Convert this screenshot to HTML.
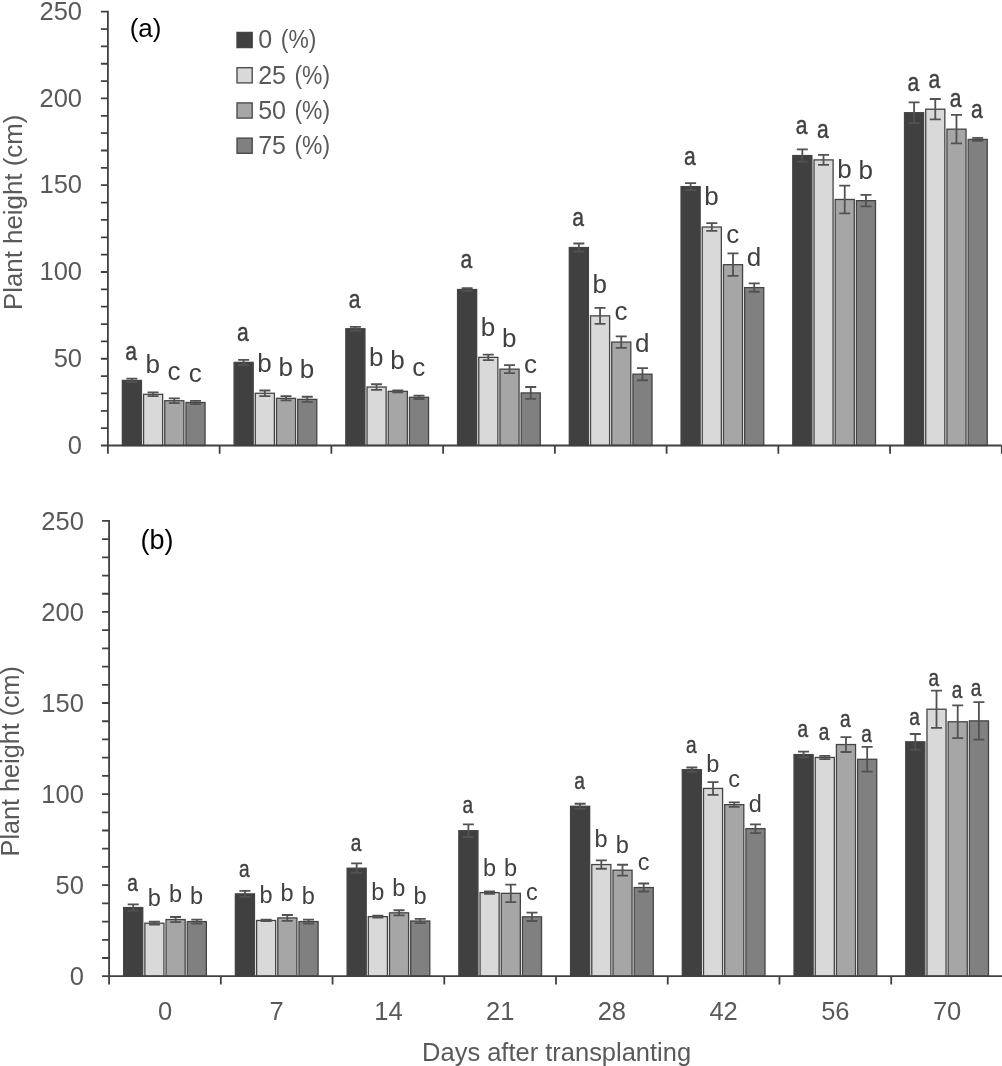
<!DOCTYPE html>
<html><head><meta charset="utf-8"><title>Plant height</title>
<style>
html,body{margin:0;padding:0;background:#fff;}
body{width:1002px;height:1066px;overflow:hidden;}
svg{display:block;font-family:"Liberation Sans", sans-serif;will-change:transform;}
</style></head>
<body>
<svg width="1002" height="1066" viewBox="0 0 1002 1066">
<rect width="1002" height="1066" fill="#fff"/>
<rect x="122.35" y="380.43" width="19.1" height="65.07" fill="#404040" stroke="#444444" stroke-width="1.3"/>
<rect x="143.55" y="394.31" width="19.1" height="51.19" fill="#d9d9d9" stroke="#444444" stroke-width="1.3"/>
<rect x="164.75" y="400.73" width="19.1" height="44.77" fill="#a6a6a6" stroke="#444444" stroke-width="1.3"/>
<rect x="185.95" y="402.47" width="19.1" height="43.03" fill="#808080" stroke="#444444" stroke-width="1.3"/>
<rect x="234.09" y="362.38" width="19.1" height="83.12" fill="#404040" stroke="#444444" stroke-width="1.3"/>
<rect x="255.29" y="393.27" width="19.1" height="52.23" fill="#d9d9d9" stroke="#444444" stroke-width="1.3"/>
<rect x="276.49" y="398.3" width="19.1" height="47.2" fill="#a6a6a6" stroke="#444444" stroke-width="1.3"/>
<rect x="297.69" y="399.34" width="19.1" height="46.16" fill="#808080" stroke="#444444" stroke-width="1.3"/>
<rect x="345.83" y="328.72" width="19.1" height="116.78" fill="#404040" stroke="#444444" stroke-width="1.3"/>
<rect x="367.03" y="387.02" width="19.1" height="58.48" fill="#d9d9d9" stroke="#444444" stroke-width="1.3"/>
<rect x="388.23" y="391.36" width="19.1" height="54.14" fill="#a6a6a6" stroke="#444444" stroke-width="1.3"/>
<rect x="409.43" y="397.26" width="19.1" height="48.24" fill="#808080" stroke="#444444" stroke-width="1.3"/>
<rect x="457.57" y="289.51" width="19.1" height="155.99" fill="#404040" stroke="#444444" stroke-width="1.3"/>
<rect x="478.77" y="357.35" width="19.1" height="88.15" fill="#d9d9d9" stroke="#444444" stroke-width="1.3"/>
<rect x="499.97" y="369.15" width="19.1" height="76.35" fill="#a6a6a6" stroke="#444444" stroke-width="1.3"/>
<rect x="521.17" y="392.92" width="19.1" height="52.58" fill="#808080" stroke="#444444" stroke-width="1.3"/>
<rect x="569.31" y="247.51" width="19.1" height="197.99" fill="#404040" stroke="#444444" stroke-width="1.3"/>
<rect x="590.51" y="315.88" width="19.1" height="129.62" fill="#d9d9d9" stroke="#444444" stroke-width="1.3"/>
<rect x="611.71" y="342.08" width="19.1" height="103.42" fill="#a6a6a6" stroke="#444444" stroke-width="1.3"/>
<rect x="632.91" y="374.18" width="19.1" height="71.32" fill="#808080" stroke="#444444" stroke-width="1.3"/>
<rect x="681.05" y="186.61" width="19.1" height="258.89" fill="#404040" stroke="#444444" stroke-width="1.3"/>
<rect x="702.25" y="227.04" width="19.1" height="218.46" fill="#d9d9d9" stroke="#444444" stroke-width="1.3"/>
<rect x="723.45" y="264.69" width="19.1" height="180.81" fill="#a6a6a6" stroke="#444444" stroke-width="1.3"/>
<rect x="744.65" y="287.6" width="19.1" height="157.9" fill="#808080" stroke="#444444" stroke-width="1.3"/>
<rect x="792.79" y="155.55" width="19.1" height="289.95" fill="#404040" stroke="#444444" stroke-width="1.3"/>
<rect x="813.99" y="159.89" width="19.1" height="285.61" fill="#d9d9d9" stroke="#444444" stroke-width="1.3"/>
<rect x="835.19" y="199.45" width="19.1" height="246.05" fill="#a6a6a6" stroke="#444444" stroke-width="1.3"/>
<rect x="856.39" y="200.66" width="19.1" height="244.84" fill="#808080" stroke="#444444" stroke-width="1.3"/>
<rect x="904.53" y="112.69" width="19.1" height="332.81" fill="#404040" stroke="#444444" stroke-width="1.3"/>
<rect x="925.73" y="109.22" width="19.1" height="336.28" fill="#d9d9d9" stroke="#444444" stroke-width="1.3"/>
<rect x="946.93" y="129.17" width="19.1" height="316.33" fill="#a6a6a6" stroke="#444444" stroke-width="1.3"/>
<rect x="968.13" y="139.41" width="19.1" height="306.09" fill="#808080" stroke="#444444" stroke-width="1.3"/>
<path d="M131.9 378.69V382.17M126.4 378.69H137.4M126.4 382.17H137.4" stroke="#525252" stroke-width="1.8" fill="none"/>
<path d="M153.1 392.4V396.22M147.6 392.4H158.6M147.6 396.22H158.6" stroke="#525252" stroke-width="1.8" fill="none"/>
<path d="M174.3 398.39V403.07M168.8 398.39H179.8M168.8 403.07H179.8" stroke="#525252" stroke-width="1.8" fill="none"/>
<path d="M195.5 400.82V404.12M190 400.82H201M190 404.12H201" stroke="#525252" stroke-width="1.8" fill="none"/>
<path d="M243.64 359.95V364.81M238.14 359.95H249.14M238.14 364.81H249.14" stroke="#525252" stroke-width="1.8" fill="none"/>
<path d="M264.84 390.49V396.05M259.34 390.49H270.34M259.34 396.05H270.34" stroke="#525252" stroke-width="1.8" fill="none"/>
<path d="M286.04 396.22V400.38M280.54 396.22H291.54M280.54 400.38H291.54" stroke="#525252" stroke-width="1.8" fill="none"/>
<path d="M307.24 396.74V401.95M301.74 396.74H312.74M301.74 401.95H312.74" stroke="#525252" stroke-width="1.8" fill="none"/>
<path d="M355.38 326.81V330.63M349.88 326.81H360.88M349.88 330.63H360.88" stroke="#525252" stroke-width="1.8" fill="none"/>
<path d="M376.58 384.25V389.8M371.08 384.25H382.08M371.08 389.8H382.08" stroke="#525252" stroke-width="1.8" fill="none"/>
<path d="M397.78 390.49V392.23M392.28 390.49H403.28M392.28 392.23H403.28" stroke="#525252" stroke-width="1.8" fill="none"/>
<path d="M418.98 395.53V399M413.48 395.53H424.48M413.48 399H424.48" stroke="#525252" stroke-width="1.8" fill="none"/>
<path d="M467.12 288.12V290.89M461.62 288.12H472.62M461.62 290.89H472.62" stroke="#525252" stroke-width="1.8" fill="none"/>
<path d="M488.32 354.66V360.04M482.82 354.66H493.82M482.82 360.04H493.82" stroke="#525252" stroke-width="1.8" fill="none"/>
<path d="M509.52 365.16V373.14M504.02 365.16H515.02M504.02 373.14H515.02" stroke="#525252" stroke-width="1.8" fill="none"/>
<path d="M530.72 387.02V398.82M525.22 387.02H536.22M525.22 398.82H536.22" stroke="#525252" stroke-width="1.8" fill="none"/>
<path d="M578.86 243.52V251.5M573.36 243.52H584.36M573.36 251.5H584.36" stroke="#525252" stroke-width="1.8" fill="none"/>
<path d="M600.06 307.9V323.86M594.56 307.9H605.56M594.56 323.86H605.56" stroke="#525252" stroke-width="1.8" fill="none"/>
<path d="M621.26 336.36V347.81M615.76 336.36H626.76M615.76 347.81H626.76" stroke="#525252" stroke-width="1.8" fill="none"/>
<path d="M642.46 368.11V380.26M636.96 368.11H647.96M636.96 380.26H647.96" stroke="#525252" stroke-width="1.8" fill="none"/>
<path d="M690.6 183.14V190.08M685.1 183.14H696.1M685.1 190.08H696.1" stroke="#525252" stroke-width="1.8" fill="none"/>
<path d="M711.8 223.22V230.86M706.3 223.22H717.3M706.3 230.86H717.3" stroke="#525252" stroke-width="1.8" fill="none"/>
<path d="M733 253.41V275.97M727.5 253.41H738.5M727.5 275.97H738.5" stroke="#525252" stroke-width="1.8" fill="none"/>
<path d="M754.2 283.43V291.76M748.7 283.43H759.7M748.7 291.76H759.7" stroke="#525252" stroke-width="1.8" fill="none"/>
<path d="M802.34 149.47V161.62M796.84 149.47H807.84M796.84 161.62H807.84" stroke="#525252" stroke-width="1.8" fill="none"/>
<path d="M823.54 154.85V164.92M818.04 154.85H829.04M818.04 164.92H829.04" stroke="#525252" stroke-width="1.8" fill="none"/>
<path d="M844.74 185.57V213.33M839.24 185.57H850.24M839.24 213.33H850.24" stroke="#525252" stroke-width="1.8" fill="none"/>
<path d="M865.94 194.94V206.39M860.44 194.94H871.44M860.44 206.39H871.44" stroke="#525252" stroke-width="1.8" fill="none"/>
<path d="M914.08 102.28V123.1M908.58 102.28H919.58M908.58 123.1H919.58" stroke="#525252" stroke-width="1.8" fill="none"/>
<path d="M935.28 98.98V119.46M929.78 98.98H940.78M929.78 119.46H940.78" stroke="#525252" stroke-width="1.8" fill="none"/>
<path d="M956.48 114.94V143.4M950.98 114.94H961.98M950.98 143.4H961.98" stroke="#525252" stroke-width="1.8" fill="none"/>
<path d="M977.68 137.85V140.97M972.18 137.85H983.18M972.18 140.97H983.18" stroke="#525252" stroke-width="1.8" fill="none"/>
<path d="M107.9 10.8V453.8M107.9 445.5H1001.6M100.9 445.5H107.9M100.9 428.15H107.9M100.9 410.8H107.9M100.9 393.44H107.9M100.9 376.09H107.9M100.9 358.74H107.9M100.9 341.39H107.9M100.9 324.04H107.9M100.9 306.68H107.9M100.9 289.33H107.9M100.9 271.98H107.9M100.9 254.63H107.9M100.9 237.28H107.9M100.9 219.92H107.9M100.9 202.57H107.9M100.9 185.22H107.9M100.9 167.87H107.9M100.9 150.52H107.9M100.9 133.16H107.9M100.9 115.81H107.9M100.9 98.46H107.9M100.9 81.11H107.9M100.9 63.76H107.9M100.9 46.4H107.9M100.9 29.05H107.9M100.9 11.7H107.9M219.64 445.5V453.8M331.38 445.5V453.8M443.12 445.5V453.8M554.86 445.5V453.8M666.6 445.5V453.8M778.34 445.5V453.8M890.08 445.5V453.8M1001.82 445.5V453.8" stroke="#404040" stroke-width="1.8" fill="none" stroke-linecap="butt"/>
<text x="82" y="453.7" text-anchor="end" font-size="25.5" fill="#595959">0</text>
<text x="82" y="366.94" text-anchor="end" font-size="25.5" fill="#595959">50</text>
<text x="82" y="280.18" text-anchor="end" font-size="25.5" fill="#595959">100</text>
<text x="82" y="193.42" text-anchor="end" font-size="25.5" fill="#595959">150</text>
<text x="82" y="106.66" text-anchor="end" font-size="25.5" fill="#595959">200</text>
<text x="82" y="19.9" text-anchor="end" font-size="25.5" fill="#595959">250</text>
<text transform="translate(131.1 360) scale(0.81 1)" text-anchor="middle" font-size="26" fill="#404040" stroke="#404040" stroke-width="0.45">a</text>
<text x="152.85" y="373.4" text-anchor="middle" font-size="26" fill="#404040">b</text>
<text x="174.05" y="379.6" text-anchor="middle" font-size="26" fill="#404040">c</text>
<text x="195.25" y="381.9" text-anchor="middle" font-size="26" fill="#404040">c</text>
<text transform="translate(242.84 341.3) scale(0.81 1)" text-anchor="middle" font-size="26" fill="#404040" stroke="#404040" stroke-width="0.45">a</text>
<text x="264.59" y="371.8" text-anchor="middle" font-size="26" fill="#404040">b</text>
<text x="285.79" y="376.3" text-anchor="middle" font-size="26" fill="#404040">b</text>
<text x="306.99" y="378.2" text-anchor="middle" font-size="26" fill="#404040">b</text>
<text transform="translate(354.58 307.8) scale(0.81 1)" text-anchor="middle" font-size="26" fill="#404040" stroke="#404040" stroke-width="0.45">a</text>
<text x="376.33" y="365.5" text-anchor="middle" font-size="26" fill="#404040">b</text>
<text x="397.53" y="369.4" text-anchor="middle" font-size="26" fill="#404040">b</text>
<text x="418.73" y="375.7" text-anchor="middle" font-size="26" fill="#404040">c</text>
<text transform="translate(466.32 268.3) scale(0.81 1)" text-anchor="middle" font-size="26" fill="#404040" stroke="#404040" stroke-width="0.45">a</text>
<text x="488.07" y="335.8" text-anchor="middle" font-size="26" fill="#404040">b</text>
<text x="509.27" y="347.3" text-anchor="middle" font-size="26" fill="#404040">b</text>
<text x="530.47" y="372.7" text-anchor="middle" font-size="26" fill="#404040">c</text>
<text transform="translate(578.06 225.7) scale(0.81 1)" text-anchor="middle" font-size="26" fill="#404040" stroke="#404040" stroke-width="0.45">a</text>
<text x="599.81" y="293.2" text-anchor="middle" font-size="26" fill="#404040">b</text>
<text x="621.01" y="320" text-anchor="middle" font-size="26" fill="#404040">c</text>
<text x="642.21" y="351.9" text-anchor="middle" font-size="26" fill="#404040">d</text>
<text transform="translate(689.8 165) scale(0.81 1)" text-anchor="middle" font-size="26" fill="#404040" stroke="#404040" stroke-width="0.45">a</text>
<text x="711.55" y="205" text-anchor="middle" font-size="26" fill="#404040">b</text>
<text x="732.75" y="242.9" text-anchor="middle" font-size="26" fill="#404040">c</text>
<text x="753.95" y="266" text-anchor="middle" font-size="26" fill="#404040">d</text>
<text transform="translate(801.54 133.8) scale(0.81 1)" text-anchor="middle" font-size="26" fill="#404040" stroke="#404040" stroke-width="0.45">a</text>
<text transform="translate(822.74 137.7) scale(0.81 1)" text-anchor="middle" font-size="26" fill="#404040" stroke="#404040" stroke-width="0.45">a</text>
<text x="844.49" y="177.8" text-anchor="middle" font-size="26" fill="#404040">b</text>
<text x="865.69" y="178.7" text-anchor="middle" font-size="26" fill="#404040">b</text>
<text transform="translate(913.28 91.3) scale(0.81 1)" text-anchor="middle" font-size="26" fill="#404040" stroke="#404040" stroke-width="0.45">a</text>
<text transform="translate(934.48 87.9) scale(0.81 1)" text-anchor="middle" font-size="26" fill="#404040" stroke="#404040" stroke-width="0.45">a</text>
<text transform="translate(955.68 107.1) scale(0.81 1)" text-anchor="middle" font-size="26" fill="#404040" stroke="#404040" stroke-width="0.45">a</text>
<text transform="translate(976.88 117.7) scale(0.81 1)" text-anchor="middle" font-size="26" fill="#404040" stroke="#404040" stroke-width="0.45">a</text>
<text x="129.7" y="37" font-size="26" fill="#000">(a)</text>
<text transform="translate(21.6 310) rotate(-90)" font-size="25.5" fill="#595959" textLength="195.4" lengthAdjust="spacingAndGlyphs">Plant height (cm)</text>
<rect x="123.65" y="907.54" width="19.1" height="68.66" fill="#404040" stroke="#444444" stroke-width="1.3"/>
<rect x="144.85" y="923.2" width="19.1" height="53" fill="#d9d9d9" stroke="#444444" stroke-width="1.3"/>
<rect x="166.05" y="919.56" width="19.1" height="56.64" fill="#a6a6a6" stroke="#444444" stroke-width="1.3"/>
<rect x="187.25" y="921.56" width="19.1" height="54.64" fill="#808080" stroke="#444444" stroke-width="1.3"/>
<rect x="235.38" y="893.88" width="19.1" height="82.32" fill="#404040" stroke="#444444" stroke-width="1.3"/>
<rect x="256.58" y="920.47" width="19.1" height="55.73" fill="#d9d9d9" stroke="#444444" stroke-width="1.3"/>
<rect x="277.78" y="917.92" width="19.1" height="58.28" fill="#a6a6a6" stroke="#444444" stroke-width="1.3"/>
<rect x="298.98" y="921.56" width="19.1" height="54.64" fill="#808080" stroke="#444444" stroke-width="1.3"/>
<rect x="347.11" y="868.2" width="19.1" height="108" fill="#404040" stroke="#444444" stroke-width="1.3"/>
<rect x="368.31" y="916.65" width="19.1" height="59.55" fill="#d9d9d9" stroke="#444444" stroke-width="1.3"/>
<rect x="389.51" y="912.82" width="19.1" height="63.38" fill="#a6a6a6" stroke="#444444" stroke-width="1.3"/>
<rect x="410.71" y="921.02" width="19.1" height="55.18" fill="#808080" stroke="#444444" stroke-width="1.3"/>
<rect x="458.84" y="830.69" width="19.1" height="145.51" fill="#404040" stroke="#444444" stroke-width="1.3"/>
<rect x="480.04" y="892.61" width="19.1" height="83.59" fill="#d9d9d9" stroke="#444444" stroke-width="1.3"/>
<rect x="501.24" y="893.34" width="19.1" height="82.86" fill="#a6a6a6" stroke="#444444" stroke-width="1.3"/>
<rect x="522.44" y="916.83" width="19.1" height="59.37" fill="#808080" stroke="#444444" stroke-width="1.3"/>
<rect x="570.57" y="806.28" width="19.1" height="169.92" fill="#404040" stroke="#444444" stroke-width="1.3"/>
<rect x="591.77" y="864.56" width="19.1" height="111.64" fill="#d9d9d9" stroke="#444444" stroke-width="1.3"/>
<rect x="612.97" y="870.21" width="19.1" height="105.99" fill="#a6a6a6" stroke="#444444" stroke-width="1.3"/>
<rect x="634.17" y="887.51" width="19.1" height="88.69" fill="#808080" stroke="#444444" stroke-width="1.3"/>
<rect x="682.3" y="769.68" width="19.1" height="206.52" fill="#404040" stroke="#444444" stroke-width="1.3"/>
<rect x="703.5" y="788.43" width="19.1" height="187.77" fill="#d9d9d9" stroke="#444444" stroke-width="1.3"/>
<rect x="724.7" y="804.64" width="19.1" height="171.56" fill="#a6a6a6" stroke="#444444" stroke-width="1.3"/>
<rect x="745.9" y="828.68" width="19.1" height="147.52" fill="#808080" stroke="#444444" stroke-width="1.3"/>
<rect x="794.03" y="754.56" width="19.1" height="221.64" fill="#404040" stroke="#444444" stroke-width="1.3"/>
<rect x="815.23" y="757.47" width="19.1" height="218.73" fill="#d9d9d9" stroke="#444444" stroke-width="1.3"/>
<rect x="836.43" y="744.54" width="19.1" height="231.66" fill="#a6a6a6" stroke="#444444" stroke-width="1.3"/>
<rect x="857.63" y="759.3" width="19.1" height="216.9" fill="#808080" stroke="#444444" stroke-width="1.3"/>
<rect x="905.76" y="741.81" width="19.1" height="234.39" fill="#404040" stroke="#444444" stroke-width="1.3"/>
<rect x="926.96" y="709.21" width="19.1" height="266.99" fill="#d9d9d9" stroke="#444444" stroke-width="1.3"/>
<rect x="948.16" y="721.78" width="19.1" height="254.42" fill="#a6a6a6" stroke="#444444" stroke-width="1.3"/>
<rect x="969.36" y="720.87" width="19.1" height="255.33" fill="#808080" stroke="#444444" stroke-width="1.3"/>
<path d="M133.2 904.44V910.64M127.7 904.44H138.7M127.7 910.64H138.7" stroke="#525252" stroke-width="1.8" fill="none"/>
<path d="M154.4 921.75V924.66M148.9 921.75H159.9M148.9 924.66H159.9" stroke="#525252" stroke-width="1.8" fill="none"/>
<path d="M175.6 917.01V922.11M170.1 917.01H181.1M170.1 922.11H181.1" stroke="#525252" stroke-width="1.8" fill="none"/>
<path d="M196.8 919.56V923.57M191.3 919.56H202.3M191.3 923.57H202.3" stroke="#525252" stroke-width="1.8" fill="none"/>
<path d="M244.93 890.97V896.8M239.43 890.97H250.43M239.43 896.8H250.43" stroke="#525252" stroke-width="1.8" fill="none"/>
<path d="M266.13 919.74V921.2M260.63 919.74H271.63M260.63 921.2H271.63" stroke="#525252" stroke-width="1.8" fill="none"/>
<path d="M287.33 915.01V920.84M281.83 915.01H292.83M281.83 920.84H292.83" stroke="#525252" stroke-width="1.8" fill="none"/>
<path d="M308.53 919.56V923.57M303.03 919.56H314.03M303.03 923.57H314.03" stroke="#525252" stroke-width="1.8" fill="none"/>
<path d="M356.66 863.47V872.94M351.16 863.47H362.16M351.16 872.94H362.16" stroke="#525252" stroke-width="1.8" fill="none"/>
<path d="M377.86 915.74V917.56M372.36 915.74H383.36M372.36 917.56H383.36" stroke="#525252" stroke-width="1.8" fill="none"/>
<path d="M399.06 910.27V915.37M393.56 910.27H404.56M393.56 915.37H404.56" stroke="#525252" stroke-width="1.8" fill="none"/>
<path d="M420.26 918.83V923.2M414.76 918.83H425.76M414.76 923.2H425.76" stroke="#525252" stroke-width="1.8" fill="none"/>
<path d="M468.39 824.31V837.06M462.89 824.31H473.89M462.89 837.06H473.89" stroke="#525252" stroke-width="1.8" fill="none"/>
<path d="M489.59 891.33V893.88M484.09 891.33H495.09M484.09 893.88H495.09" stroke="#525252" stroke-width="1.8" fill="none"/>
<path d="M510.79 884.59V902.08M505.29 884.59H516.29M505.29 902.08H516.29" stroke="#525252" stroke-width="1.8" fill="none"/>
<path d="M531.99 912.64V921.02M526.49 912.64H537.49M526.49 921.02H537.49" stroke="#525252" stroke-width="1.8" fill="none"/>
<path d="M580.12 803.73V808.83M574.62 803.73H585.62M574.62 808.83H585.62" stroke="#525252" stroke-width="1.8" fill="none"/>
<path d="M601.32 860.37V868.75M595.82 860.37H606.82M595.82 868.75H606.82" stroke="#525252" stroke-width="1.8" fill="none"/>
<path d="M622.52 864.74V875.67M617.02 864.74H628.02M617.02 875.67H628.02" stroke="#525252" stroke-width="1.8" fill="none"/>
<path d="M643.72 883.5V891.51M638.22 883.5H649.22M638.22 891.51H649.22" stroke="#525252" stroke-width="1.8" fill="none"/>
<path d="M691.85 767.49V771.86M686.35 767.49H697.35M686.35 771.86H697.35" stroke="#525252" stroke-width="1.8" fill="none"/>
<path d="M713.05 782.06V794.81M707.55 782.06H718.55M707.55 794.81H718.55" stroke="#525252" stroke-width="1.8" fill="none"/>
<path d="M734.25 802.46V806.83M728.75 802.46H739.75M728.75 806.83H739.75" stroke="#525252" stroke-width="1.8" fill="none"/>
<path d="M755.45 824.31V833.05M749.95 824.31H760.95M749.95 833.05H760.95" stroke="#525252" stroke-width="1.8" fill="none"/>
<path d="M803.58 751.65V757.47M798.08 751.65H809.08M798.08 757.47H809.08" stroke="#525252" stroke-width="1.8" fill="none"/>
<path d="M824.78 755.83V759.11M819.28 755.83H830.28M819.28 759.11H830.28" stroke="#525252" stroke-width="1.8" fill="none"/>
<path d="M845.98 737.08V752.01M840.48 737.08H851.48M840.48 752.01H851.48" stroke="#525252" stroke-width="1.8" fill="none"/>
<path d="M867.18 746.91V771.68M861.68 746.91H872.68M861.68 771.68H872.68" stroke="#525252" stroke-width="1.8" fill="none"/>
<path d="M915.31 733.98V749.64M909.81 733.98H920.81M909.81 749.64H920.81" stroke="#525252" stroke-width="1.8" fill="none"/>
<path d="M936.51 690.64V727.79M931.01 690.64H942.01M931.01 727.79H942.01" stroke="#525252" stroke-width="1.8" fill="none"/>
<path d="M957.71 705.39V738.17M952.21 705.39H963.21M952.21 738.17H963.21" stroke="#525252" stroke-width="1.8" fill="none"/>
<path d="M978.91 702.11V739.63M973.41 702.11H984.41M973.41 739.63H984.41" stroke="#525252" stroke-width="1.8" fill="none"/>
<path d="M109.1 520V984.5M109.1 976.2H1003.5M102.1 976.2H109.1M102.1 957.99H109.1M102.1 939.78H109.1M102.1 921.56H109.1M102.1 903.35H109.1M102.1 885.14H109.1M102.1 866.93H109.1M102.1 848.72H109.1M102.1 830.5H109.1M102.1 812.29H109.1M102.1 794.08H109.1M102.1 775.87H109.1M102.1 757.66H109.1M102.1 739.44H109.1M102.1 721.23H109.1M102.1 703.02H109.1M102.1 684.81H109.1M102.1 666.6H109.1M102.1 648.38H109.1M102.1 630.17H109.1M102.1 611.96H109.1M102.1 593.75H109.1M102.1 575.54H109.1M102.1 557.32H109.1M102.1 539.11H109.1M102.1 520.9H109.1M220.83 976.2V984.5M332.56 976.2V984.5M444.29 976.2V984.5M556.02 976.2V984.5M667.75 976.2V984.5M779.48 976.2V984.5M891.21 976.2V984.5" stroke="#404040" stroke-width="1.8" fill="none" stroke-linecap="butt"/>
<text x="83.9" y="984.9" text-anchor="end" font-size="25.5" fill="#595959">0</text>
<text x="83.9" y="893.84" text-anchor="end" font-size="25.5" fill="#595959">50</text>
<text x="83.9" y="802.78" text-anchor="end" font-size="25.5" fill="#595959">100</text>
<text x="83.9" y="711.72" text-anchor="end" font-size="25.5" fill="#595959">150</text>
<text x="83.9" y="620.66" text-anchor="end" font-size="25.5" fill="#595959">200</text>
<text x="83.9" y="529.6" text-anchor="end" font-size="25.5" fill="#595959">250</text>
<text transform="translate(132.53 890.5) scale(0.81 1)" text-anchor="middle" font-size="23.5" fill="#404040" stroke="#404040" stroke-width="0.45">a</text>
<text x="154.23" y="905.6" text-anchor="middle" font-size="23.5" fill="#404040">b</text>
<text x="175.43" y="902.3" text-anchor="middle" font-size="23.5" fill="#404040">b</text>
<text x="196.63" y="904.3" text-anchor="middle" font-size="23.5" fill="#404040">b</text>
<text transform="translate(244.26 877.2) scale(0.81 1)" text-anchor="middle" font-size="23.5" fill="#404040" stroke="#404040" stroke-width="0.45">a</text>
<text x="265.96" y="903.2" text-anchor="middle" font-size="23.5" fill="#404040">b</text>
<text x="287.16" y="900.6" text-anchor="middle" font-size="23.5" fill="#404040">b</text>
<text x="308.36" y="904.3" text-anchor="middle" font-size="23.5" fill="#404040">b</text>
<text transform="translate(355.99 851.1) scale(0.81 1)" text-anchor="middle" font-size="23.5" fill="#404040" stroke="#404040" stroke-width="0.45">a</text>
<text x="377.69" y="899.9" text-anchor="middle" font-size="23.5" fill="#404040">b</text>
<text x="398.89" y="895.8" text-anchor="middle" font-size="23.5" fill="#404040">b</text>
<text x="420.09" y="904" text-anchor="middle" font-size="23.5" fill="#404040">b</text>
<text transform="translate(467.72 813.2) scale(0.81 1)" text-anchor="middle" font-size="23.5" fill="#404040" stroke="#404040" stroke-width="0.45">a</text>
<text x="489.42" y="875.5" text-anchor="middle" font-size="23.5" fill="#404040">b</text>
<text x="510.62" y="876.2" text-anchor="middle" font-size="23.5" fill="#404040">b</text>
<text x="531.82" y="899.5" text-anchor="middle" font-size="23.5" fill="#404040">c</text>
<text transform="translate(579.45 789.1) scale(0.81 1)" text-anchor="middle" font-size="23.5" fill="#404040" stroke="#404040" stroke-width="0.45">a</text>
<text x="601.15" y="847.2" text-anchor="middle" font-size="23.5" fill="#404040">b</text>
<text x="622.35" y="852.5" text-anchor="middle" font-size="23.5" fill="#404040">b</text>
<text x="643.55" y="869.7" text-anchor="middle" font-size="23.5" fill="#404040">c</text>
<text transform="translate(691.18 752.7) scale(0.81 1)" text-anchor="middle" font-size="23.5" fill="#404040" stroke="#404040" stroke-width="0.45">a</text>
<text x="712.88" y="771.5" text-anchor="middle" font-size="23.5" fill="#404040">b</text>
<text x="734.08" y="786.6" text-anchor="middle" font-size="23.5" fill="#404040">c</text>
<text x="755.28" y="811.5" text-anchor="middle" font-size="23.5" fill="#404040">d</text>
<text transform="translate(802.91 737.3) scale(0.81 1)" text-anchor="middle" font-size="23.5" fill="#404040" stroke="#404040" stroke-width="0.45">a</text>
<text transform="translate(824.11 740.1) scale(0.81 1)" text-anchor="middle" font-size="23.5" fill="#404040" stroke="#404040" stroke-width="0.45">a</text>
<text transform="translate(845.31 727.2) scale(0.81 1)" text-anchor="middle" font-size="23.5" fill="#404040" stroke="#404040" stroke-width="0.45">a</text>
<text transform="translate(866.51 742.1) scale(0.81 1)" text-anchor="middle" font-size="23.5" fill="#404040" stroke="#404040" stroke-width="0.45">a</text>
<text transform="translate(914.64 724.9) scale(0.81 1)" text-anchor="middle" font-size="23.5" fill="#404040" stroke="#404040" stroke-width="0.45">a</text>
<text transform="translate(933.84 686.2) scale(0.81 1)" text-anchor="middle" font-size="23.5" fill="#404040" stroke="#404040" stroke-width="0.45">a</text>
<text transform="translate(957.04 698.1) scale(0.81 1)" text-anchor="middle" font-size="23.5" fill="#404040" stroke="#404040" stroke-width="0.45">a</text>
<text transform="translate(975.94 695.8) scale(0.81 1)" text-anchor="middle" font-size="23.5" fill="#404040" stroke="#404040" stroke-width="0.45">a</text>
<text x="140.6" y="548.5" font-size="27" fill="#000">(b)</text>
<text transform="translate(19 856.4) rotate(-90)" font-size="25.5" fill="#595959" textLength="190.4" lengthAdjust="spacingAndGlyphs">Plant height (cm)</text>
<text x="164.97" y="1020.2" text-anchor="middle" font-size="25.5" fill="#595959">0</text>
<text x="276.69" y="1020.2" text-anchor="middle" font-size="25.5" fill="#595959">7</text>
<text x="388.43" y="1020.2" text-anchor="middle" font-size="25.5" fill="#595959">14</text>
<text x="500.15" y="1020.2" text-anchor="middle" font-size="25.5" fill="#595959">21</text>
<text x="611.88" y="1020.2" text-anchor="middle" font-size="25.5" fill="#595959">28</text>
<text x="723.62" y="1020.2" text-anchor="middle" font-size="25.5" fill="#595959">42</text>
<text x="835.35" y="1020.2" text-anchor="middle" font-size="25.5" fill="#595959">56</text>
<text x="947.08" y="1020.2" text-anchor="middle" font-size="25.5" fill="#595959">70</text>
<rect x="237" y="32.4" width="15.2" height="15.2" fill="#404040" stroke="#444444" stroke-width="1.3"/>
<text x="258.2" y="48.3" font-size="25" fill="#595959">0</text>
<text x="280.8" y="48.3" font-size="25" fill="#595959" textLength="35.6" lengthAdjust="spacingAndGlyphs">(%)</text>
<rect x="237" y="67.7" width="15.2" height="15.2" fill="#d9d9d9" stroke="#444444" stroke-width="1.3"/>
<text x="258.2" y="83.6" font-size="25" fill="#595959">25</text>
<text x="294.5" y="83.6" font-size="25" fill="#595959" textLength="35.6" lengthAdjust="spacingAndGlyphs">(%)</text>
<rect x="237" y="102.9" width="15.2" height="15.2" fill="#a6a6a6" stroke="#444444" stroke-width="1.3"/>
<text x="258.2" y="118.8" font-size="25" fill="#595959">50</text>
<text x="294.5" y="118.8" font-size="25" fill="#595959" textLength="35.6" lengthAdjust="spacingAndGlyphs">(%)</text>
<rect x="237" y="138.1" width="15.2" height="15.2" fill="#808080" stroke="#444444" stroke-width="1.3"/>
<text x="258.2" y="154" font-size="25" fill="#595959">75</text>
<text x="294.5" y="154" font-size="25" fill="#595959" textLength="35.6" lengthAdjust="spacingAndGlyphs">(%)</text>
<text x="556.6" y="1061.3" text-anchor="middle" font-size="25.5" fill="#595959" textLength="269" lengthAdjust="spacingAndGlyphs">Days after transplanting</text>
</svg>
</body></html>
